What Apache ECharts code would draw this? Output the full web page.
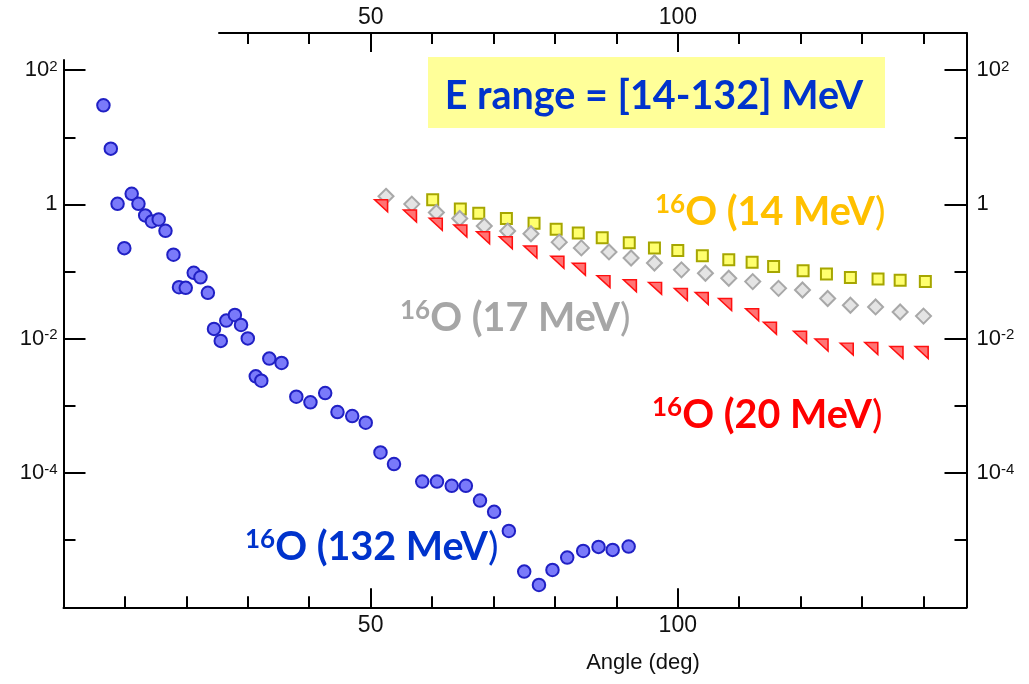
<!DOCTYPE html>
<html>
<head>
<meta charset="utf-8">
<script src="https://cdn.jsdelivr.net/npm/echarts@6/dist/echarts.min.js"></script>
<style>
  html, body { margin: 0; padding: 0; background: #fff; }
  #chart { width: 1029px; height: 684px; }
</style>
</head>
<body>
<div id="chart"></div>
<script>
// 16O angular distributions at four beam energies
const angle132 = [6.5, 7.7, 8.8, 9.9, 11.1, 12.2, 13.3, 14.4, 15.5, 16.6, 17.9, 18.8, 19.9, 21.2, 22.3, 23.5, 24.5, 25.6, 26.5, 27.9, 28.9, 30.0, 31.3, 32.2, 33.5, 35.5, 37.9, 40.2, 42.6, 44.6, 47.0, 49.2, 51.6, 53.8, 58.4, 60.8, 63.2, 65.5, 67.8, 70.1, 72.5, 75.0, 77.4, 79.6, 82.0, 84.6, 87.1, 89.4, 92.0];
const value132 = [29.9, 6.77, 1.02, 0.223, 1.44, 1.02, 0.686, 0.557, 0.597, 0.405, 0.178, 0.0585, 0.0572, 0.0958, 0.0822, 0.0482, 0.014, 0.00927, 0.0186, 0.0226, 0.016, 0.0101, 0.00275, 0.00237, 0.00505, 0.00435, 0.00137, 0.00113, 0.00155, 0.000809, 0.000705, 0.000561, 0.000202, 0.000136, 7.46e-5, 7.46e-5, 6.44e-5, 6.44e-5, 3.89e-5, 2.64e-5, 1.37e-5, 3.4e-6, 2.15e-6, 3.6e-6, 5.5e-6, 6.91e-6, 7.94e-6, 7.16e-6, 8.02e-6];

const angle14 = [60.1, 64.6, 67.6, 72.1, 76.6, 80.2, 83.8, 87.7, 92.1, 96.2, 100.0, 104.0, 108.3, 112.1, 115.6, 120.4, 124.2, 128.1, 132.6, 136.2, 140.3];
const value14 = [1.17, 0.851, 0.739, 0.616, 0.523, 0.426, 0.374, 0.318, 0.268, 0.225, 0.205, 0.172, 0.150, 0.138, 0.119, 0.1025, 0.0923, 0.0813, 0.0776, 0.0741, 0.0708];

const angle17 = [52.5, 56.7, 60.7, 64.5, 68.5, 72.3, 76.1, 80.7, 84.3, 88.8, 92.4, 96.2, 100.6, 104.5, 108.3, 112.2, 116.4, 120.3, 124.4, 128.1, 132.2, 136.2, 140.0];
const value17 = [1.32, 1.01, 0.757, 0.616, 0.476, 0.401, 0.366, 0.274, 0.225, 0.196, 0.159, 0.134, 0.106, 0.0944, 0.0794, 0.0708, 0.0562, 0.0531, 0.0397, 0.0315, 0.0297, 0.025, 0.0217];

const angle20 = [51.7, 56.4, 60.6, 64.6, 68.3, 72.0, 76.0, 80.4, 83.9, 87.9, 92.2, 96.3, 100.5, 103.9, 107.7, 112.1, 115.0, 119.9, 123.4, 127.5, 131.5, 135.6, 139.7];
const value20 = [0.953, 0.673, 0.505, 0.401, 0.318, 0.268, 0.196, 0.138, 0.108, 0.0708, 0.0615, 0.0562, 0.0456, 0.0397, 0.0323, 0.0228, 0.0143, 0.0105, 0.00805, 0.007, 0.00716, 0.00625, 0.00625];

// angle labels on the lower and upper scales
const angleLabels = [50, 100];

const AXIS_FONT = "'Liberation Sans', Arial, sans-serif";
const NOTE_FONT = "Lato, 'Open Sans', sans-serif";
const INK = '#111';

const pairs = (xs, ys) => xs.map((x, i) => [x, ys[i]]);

// "10^n" labels on the decade ticks
function decadeLabel(v) {
  const e = Math.round(Math.log10(v));
  if (e === 0) return '1';
  if (e < -4 || e > 2) return '';
  return '{b|10}{s|' + e + '}';
}
const decadeRich = () => ({
  b: { fontSize: 22, fontFamily: AXIS_FONT, color: INK },
  s: { fontSize: 15, fontFamily: AXIS_FONT, color: INK, verticalAlign: 'top', padding: [0, 0, 6, 0] }
});

// every axis gets its own style objects
const line = () => ({ show: true, onZero: false, lineStyle: { color: '#000', width: 2 } });
const noLine = () => ({ show: false, onZero: false });
const tick = (len) => ({ show: true, inside: true, length: len, lineStyle: { color: '#000', width: 2 } });
const off = () => ({ show: false });

// frame geometry (px)
const L = 63.5, RIGHT_X = 966.5, TOP_Y = 33, BOTTOM_Y = 607.3;
const R = 1029 - RIGHT_X, B = 684 - BOTTOM_Y;
const X_MAX = 147;
const xAt = d => L + d * (RIGHT_X - L) / X_MAX;

// angle tick strips: thin grids whose split lines act as ticks
// [first angle, step, length, on top]
const strips = [[0, 10, 11, false], [0, 50, 19, false], [30, 10, 11, true], [50, 50, 19, true]];

const grids = [
  { left: L, right: R, top: TOP_Y, bottom: B },      // 0 frame: bottom + right lines, lower labels
  { left: L, right: R, top: 60, bottom: B },         // 1 left line
  { left: L, right: R, top: 70.1, bottom: B },       // 2 decade ticks + data (1e-6 .. 1e2)
  { left: 219, right: R, top: TOP_Y, bottom: B }     // 3 upper angle scale
].concat(strips.map(s => ({
  left: xAt(s[0]), right: R,
  top: s[3] ? TOP_Y : BOTTOM_Y - s[2],
  bottom: s[3] ? 684 - TOP_Y - s[2] : B
})));

const xAxes = [
  { gridIndex: 0, type: 'value', position: 'bottom', min: 0, max: X_MAX, interval: 50,
    axisLine: line(), axisTick: off(),
    axisLabel: { show: true, margin: 7, fontSize: 23, fontFamily: AXIS_FONT, color: INK,
      formatter: v => angleLabels.indexOf(v) >= 0 ? String(v) : '' },
    splitLine: off() },
  { gridIndex: 1, type: 'value', min: 0, max: X_MAX, show: false, axisLine: noLine() },
  { gridIndex: 2, type: 'value', min: 0, max: X_MAX, show: false, axisLine: noLine() },
  { gridIndex: 3, type: 'value', position: 'top', min: 25.3, max: X_MAX,
    axisLine: line(), axisTick: off(),
    axisLabel: { show: true, customValues: angleLabels.slice(), margin: 4, fontSize: 23, fontFamily: AXIS_FONT, color: INK },
    splitLine: off() }
].concat(strips.map((s, i) => ({
  gridIndex: 4 + i, type: 'value', min: s[0], max: X_MAX, interval: s[1],
  zlevel: 1, z: 50,
  axisLine: noLine(), axisTick: off(), axisLabel: off(),
  splitLine: { show: true, lineStyle: { color: '#000', width: 2 } }
})));

const yAxes = [
  { gridIndex: 0, type: 'value', position: 'right', min: 0, max: 1,
    axisLine: line(), axisTick: off(), axisLabel: off(), splitLine: off() },
  { gridIndex: 1, type: 'value', position: 'left', min: 0, max: 1,
    axisLine: line(), axisTick: off(), axisLabel: off(), splitLine: off() },
  // left: even decades (long ticks, labels)
  { gridIndex: 2, type: 'log', logBase: 100, position: 'left', min: 1e-6, max: 100,
    axisLine: noLine(), axisTick: tick(22),
    axisLabel: { show: true, margin: 6, fontSize: 22, fontFamily: AXIS_FONT, color: INK, formatter: decadeLabel, rich: decadeRich() },
    splitLine: off() },
  // left: every decade (short ticks) — also the data scale
  { gridIndex: 2, type: 'log', logBase: 10, position: 'left', min: 1e-6, max: 100,
    axisLine: noLine(), axisTick: tick(12), axisLabel: off(), splitLine: off() },
  // right: even decades
  { gridIndex: 2, type: 'log', logBase: 100, position: 'right', min: 1e-6, max: 100,
    axisLine: noLine(), axisTick: tick(22),
    axisLabel: { show: true, margin: 10, fontSize: 22, fontFamily: AXIS_FONT, color: INK, formatter: decadeLabel, rich: decadeRich() },
    splitLine: off() },
  // right: every decade
  { gridIndex: 2, type: 'log', logBase: 10, position: 'right', min: 1e-6, max: 100,
    axisLine: noLine(), axisTick: tick(12), axisLabel: off(), splitLine: off() },
  { gridIndex: 3, type: 'value', min: 0, max: 1, show: false, axisLine: noLine() }
].concat(strips.map((s, i) => ({ gridIndex: 4 + i, type: 'value', min: 0, max: 1, show: false, axisLine: noLine() })));

function noteText(x, y, head, color) {
  return {
    type: 'text', z: 10, x, y,
    style: {
      text: '{s|16}{m|' + head + '}{p|)}', align: 'left', verticalAlign: 'middle',
      rich: {
        s: { fontSize: 26, fontWeight: 'bold', fontFamily: NOTE_FONT, fill: color, verticalAlign: 'top' },
        m: { fontSize: 39.5, fontWeight: 'bold', fontFamily: NOTE_FONT, fill: color },
        p: { fontSize: 39.5, fontWeight: 'normal', fontFamily: NOTE_FONT, fill: color }
      }
    }
  };
}

const option = {
  animation: false,
  backgroundColor: '#fff',
  grid: grids,
  xAxis: xAxes,
  yAxis: yAxes,
  series: [
    { name: '16O (14 MeV)', type: 'scatter', xAxisIndex: 2, yAxisIndex: 3,
      data: pairs(angle14, value14), symbol: 'rect', symbolSize: 11,
      itemStyle: { color: '#FFFF6E', borderColor: '#A6A600', borderWidth: 2, opacity: 1 } },
    { name: '16O (17 MeV)', type: 'scatter', xAxisIndex: 2, yAxisIndex: 3,
      data: pairs(angle17, value17), symbol: 'diamond', symbolSize: 15,
      itemStyle: { color: '#E4E4E4', borderColor: '#A8A8A8', borderWidth: 2, opacity: 1 } },
    { name: '16O (20 MeV)', type: 'scatter', xAxisIndex: 2, yAxisIndex: 3,
      data: pairs(angle20, value20), symbol: 'path://M0,0L10,0L10,10Z', symbolSize: [13, 12],
      itemStyle: { color: '#FF7474', borderColor: '#FF1010', borderWidth: 1.5, opacity: 1 } },
    { name: '16O (132 MeV)', type: 'scatter', xAxisIndex: 2, yAxisIndex: 3,
      data: pairs(angle132, value132), symbol: 'circle', symbolSize: 12.5,
      itemStyle: { color: '#7A7AFA', borderColor: '#2020C4', borderWidth: 2, opacity: 1 } }
  ],
  graphic: [
    { type: 'rect', z: 0, shape: { x: 428, y: 57, width: 457, height: 71 }, style: { fill: '#FFFF99' } },
    { type: 'text', z: 10, x: 654, y: 96,
      style: { text: 'E range = [14-132] MeV', fill: '#0033CC', font: "bold 39.5px " + NOTE_FONT, align: 'center', verticalAlign: 'middle' } },
    noteText(655, 212, 'O (14 MeV', '#FFC000'),
    noteText(400, 318, 'O (17 MeV', '#A6A6A6'),
    noteText(652, 415, 'O (20 MeV', '#FF0000'),
    noteText(245, 547, 'O (132 MeV', '#0033CC'),
    { type: 'text', z: 10, x: 643, y: 663,
      style: { text: 'Angle (deg)', fill: INK, font: "22px " + AXIS_FONT, align: 'center', verticalAlign: 'middle' } }
  ]
};

const chart = echarts.init(document.getElementById('chart'), null, { renderer: 'canvas' });
chart.setOption(option);
</script>
</body>
</html>
